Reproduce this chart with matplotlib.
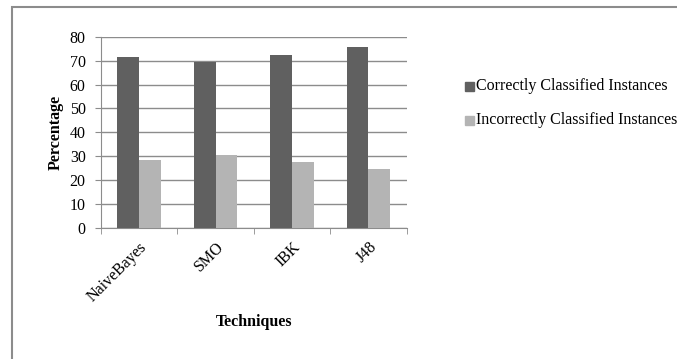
import matplotlib.pyplot as plt
import numpy as np
from matplotlib.patches import Rectangle

plt.rcParams['font.family'] = ['Liberation Serif', 'DejaVu Serif']

techniques = ["NaiveBayes", "SMO", "IBK", "J48"]
correct = [71.6, 69.6, 72.4, 75.5]
incorrect = [28.4, 30.4, 27.6, 24.5]
series_names = ["Correctly Classified Instances", "Incorrectly Classified Instances"]

dark = "#606060"
light = "#b4b4b4"
grey = "#8c8c8c"

fig = plt.figure(figsize=(6.77, 3.59), dpi=100)
ax = fig.add_axes([0.1492, 0.365, 0.4515, 0.5328])

x = np.arange(len(techniques))
w = 0.285
ax.bar(x - w / 2, correct, w, color=dark, zorder=3, label=series_names[0])
ax.bar(x + w / 2, incorrect, w, color=light, zorder=3, label=series_names[1])

ax.set_xlim(-0.5, len(techniques) - 0.5)
ax.set_ylim(0, 80)
ax.set_yticks(range(0, 81, 10))
ax.yaxis.grid(True, color=grey, linewidth=1, zorder=0)
ax.tick_params(axis='y', labelsize=11.5, length=4, color=grey, pad=7)

# category labels at centres, tick marks at category boundaries
ax.set_xticks(x)
ax.set_xticklabels(techniques, rotation=45, ha='right', rotation_mode='anchor', fontsize=11.5)
ax.tick_params(axis='x', which='major', length=0, pad=8)
ax.set_xticks(np.arange(-0.5, len(techniques)), minor=True)
ax.tick_params(axis='x', which='minor', length=4, color=grey)

for side in ['top', 'right']:
    ax.spines[side].set_visible(False)
for side in ['left', 'bottom']:
    ax.spines[side].set_color(grey)

ax.set_ylabel("Percentage", fontsize=11.5, fontweight='bold', labelpad=4)
fig.text(254 / 677, 1 - 322 / 359, "Techniques", fontsize=11.5, fontweight='bold',
         ha='center', va='center')

# legend drawn by hand at the right of the plot
for i, (name, c) in enumerate(zip(series_names, [dark, light])):
    yc = 1 - (86 + 34 * i) / 359
    fig.patches.append(Rectangle((465 / 677, yc - 4.5 / 359), 8.5 / 677, 9 / 359,
                                 transform=fig.transFigure, color=c, figure=fig))
    fig.text(476 / 677, yc, name, fontsize=11.5, ha='left', va='center')

# chart frame
fig.patches.append(Rectangle((12 / 677, -0.05), 1.1, 1 - 7 / 359 + 0.05,
                             transform=fig.transFigure, fill=False,
                             edgecolor=grey, linewidth=1.5, figure=fig))

fig.savefig("out.png", dpi=100)
